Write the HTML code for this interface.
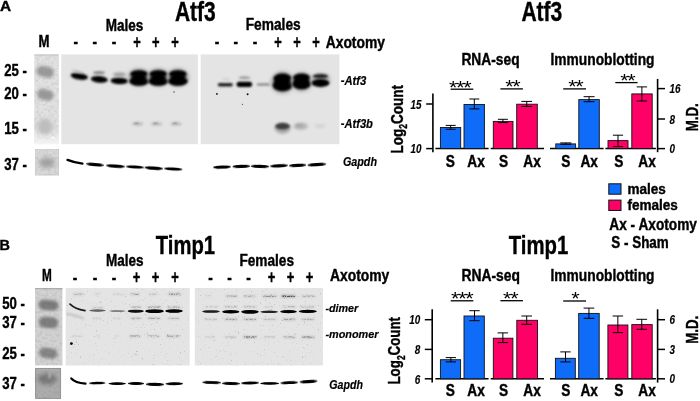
<!DOCTYPE html>
<html><head><meta charset="utf-8"><title>Atf3 Timp1</title>
<style>
html,body{margin:0;padding:0;background:#fff;}
body{width:700px;height:401px;overflow:hidden;}
svg{display:block;}
text{font-family:"Liberation Sans",Arial,sans-serif;stroke:#000;stroke-width:0.4px;}
</style></head><body>
<svg width="700" height="401" viewBox="0 0 700 401">
<defs>
<filter id="b1" x="-30%" y="-100%" width="160%" height="300%"><feGaussianBlur stdDeviation="0.9"/></filter>
<filter id="b2" x="-30%" y="-100%" width="160%" height="300%"><feGaussianBlur stdDeviation="1.4"/></filter>
<filter id="b05" x="-30%" y="-100%" width="160%" height="300%"><feGaussianBlur stdDeviation="0.55"/></filter>
<filter id="b3" x="-50%" y="-100%" width="200%" height="300%"><feGaussianBlur stdDeviation="2.2"/></filter>
<filter id="grain" x="0" y="0" width="100%" height="100%" color-interpolation-filters="sRGB">
<feTurbulence type="fractalNoise" baseFrequency="0.55" numOctaves="2" seed="7" result="n"/>
<feColorMatrix in="n" type="matrix" values="0 0 0 0 0.3  0 0 0 0 0.3  0 0 0 0 0.3  7 0 0 0 -4.75"/>
<feComponentTransfer><feFuncA type="linear" slope="0.22"/></feComponentTransfer>
<feGaussianBlur stdDeviation="0.35"/>
<feComposite in2="SourceGraphic" operator="in"/>
</filter>
<linearGradient id="fadeA" x1="0" y1="0" x2="0" y2="1"><stop offset="0" stop-color="#fff" stop-opacity="0"/><stop offset="1" stop-color="#fff" stop-opacity="0.7"/></linearGradient>
<filter id="mottle" x="0" y="0" width="100%" height="100%" color-interpolation-filters="sRGB">
<feTurbulence type="fractalNoise" baseFrequency="0.35" numOctaves="3" seed="5" result="n"/>
<feColorMatrix in="n" type="matrix" values="0 0 0 0 0.35  0 0 0 0 0.35  0 0 0 0 0.35  2.2 0 0 0 -0.85"/>
<feComponentTransfer><feFuncA type="linear" slope="0.14"/></feComponentTransfer>
<feComposite in2="SourceGraphic" operator="in"/>
</filter>
<filter id="spk" x="-10%" y="-150%" width="120%" height="400%" color-interpolation-filters="sRGB">
<feTurbulence type="fractalNoise" baseFrequency="0.6 0.9" numOctaves="2" seed="11" result="n"/>
<feColorMatrix in="n" type="matrix" values="0 0 0 0 0  0 0 0 0 0  0 0 0 0 0  7 0 0 0 -2.9" result="m"/>
<feGaussianBlur in="SourceGraphic" stdDeviation="0.5" result="g"/>
<feComposite in="g" in2="m" operator="in"/>
</filter>
</defs>
<rect width="700" height="401" fill="#fff"/>

<text x="-0.1" y="10.6" font-size="15.4" font-weight="bold">A</text>
<text x="-0.6" y="250.4" font-size="14.4" font-weight="bold">B</text>
<text x="174.90" y="21.00" font-size="27" font-weight="bold" textLength="40.80" lengthAdjust="spacingAndGlyphs" fill="#000">Atf3</text>
<text x="105.70" y="31.00" font-size="16.3" font-weight="bold" textLength="37.60" lengthAdjust="spacingAndGlyphs" fill="#000">Males</text>
<text x="245.70" y="30.40" font-size="16.3" font-weight="bold" textLength="55.00" lengthAdjust="spacingAndGlyphs" fill="#000">Females</text>
<text x="38.60" y="47.10" font-size="16.3" font-weight="bold" textLength="11.00" lengthAdjust="spacingAndGlyphs" fill="#000">M</text>
<text transform="translate(75.70,47.30) scale(0.85,1)" font-size="16" font-weight="bold" text-anchor="middle">-</text>
<text transform="translate(94.70,47.30) scale(0.85,1)" font-size="16" font-weight="bold" text-anchor="middle">-</text>
<text transform="translate(113.90,47.30) scale(0.85,1)" font-size="16" font-weight="bold" text-anchor="middle">-</text>
<text transform="translate(217.00,47.30) scale(0.85,1)" font-size="16" font-weight="bold" text-anchor="middle">-</text>
<text transform="translate(235.70,47.30) scale(0.85,1)" font-size="16" font-weight="bold" text-anchor="middle">-</text>
<text transform="translate(255.00,47.30) scale(0.85,1)" font-size="16" font-weight="bold" text-anchor="middle">-</text>
<text transform="translate(136.90,47.90) scale(0.74,1)" font-size="17.5" font-weight="bold" text-anchor="middle">+</text>
<text transform="translate(155.70,47.90) scale(0.74,1)" font-size="17.5" font-weight="bold" text-anchor="middle">+</text>
<text transform="translate(175.00,47.90) scale(0.74,1)" font-size="17.5" font-weight="bold" text-anchor="middle">+</text>
<text transform="translate(277.90,47.90) scale(0.74,1)" font-size="17.5" font-weight="bold" text-anchor="middle">+</text>
<text transform="translate(297.00,47.90) scale(0.74,1)" font-size="17.5" font-weight="bold" text-anchor="middle">+</text>
<text transform="translate(316.00,47.90) scale(0.74,1)" font-size="17.5" font-weight="bold" text-anchor="middle">+</text>
<text x="325.70" y="48.10" font-size="16.3" font-weight="bold" textLength="59.30" lengthAdjust="spacingAndGlyphs" fill="#000">Axotomy</text>
<text x="4.30" y="75.70" font-size="16.5" font-weight="bold" textLength="22.70" lengthAdjust="spacingAndGlyphs" fill="#000">25 -</text>
<text x="4.30" y="99.30" font-size="16.5" font-weight="bold" textLength="22.70" lengthAdjust="spacingAndGlyphs" fill="#000">20 -</text>
<text x="4.30" y="133.60" font-size="16.5" font-weight="bold" textLength="22.70" lengthAdjust="spacingAndGlyphs" fill="#000">15 -</text>
<text x="4.30" y="169.70" font-size="16.5" font-weight="bold" textLength="22.70" lengthAdjust="spacingAndGlyphs" fill="#000">37 -</text>
<text x="340.70" y="85.00" font-size="13.3" font-weight="bold" font-style="italic" style="stroke-width:0.2px" textLength="25.70" lengthAdjust="spacingAndGlyphs" fill="#000">-Atf3</text>
<text x="340.70" y="128.40" font-size="13.3" font-weight="bold" font-style="italic" style="stroke-width:0.2px" textLength="32.20" lengthAdjust="spacingAndGlyphs" fill="#000">-Atf3b</text>
<text x="342.90" y="165.70" font-size="13" font-weight="bold" font-style="italic" style="stroke-width:0.2px" textLength="34.10" lengthAdjust="spacingAndGlyphs" fill="#000">Gapdh</text>
<g>
<rect x="34.3" y="54.5" width="24.5" height="89.6" fill="#e2e2e2"/>
<rect x="34.3" y="54.5" width="24.5" height="89.6" fill="#666" filter="url(#mottle)"/>
<rect x="34.3" y="54.5" width="24.5" height="1" fill="#c4c4c4"/>
<rect x="34.3" y="130" width="24.5" height="14.1" fill="url(#fadeA)"/>
<rect x="36.6" y="66.4" width="17.4" height="10.6" rx="5.3" fill="#989898" filter="url(#b2)" transform="rotate(12 45.2 71.7)"/>
<rect x="37" y="89.6" width="16.6" height="10.4" rx="5.2" fill="#989898" filter="url(#b2)" transform="rotate(12 45.2 94.8)"/>
<ellipse cx="45" cy="126.5" rx="7.5" ry="8" fill="#bdbdbd" filter="url(#b3)"/>
<circle cx="52.8" cy="137.6" r="1.1" fill="#fff" filter="url(#b05)"/>
<rect x="35.5" y="149.5" width="23.2" height="25.6" fill="#d9d9d9" stroke="#c2c2c2" stroke-width="0.6"/>
<rect x="35.5" y="149.5" width="23.2" height="25.6" fill="#666" filter="url(#mottle)"/>
<ellipse cx="47" cy="162.6" rx="8" ry="5.2" fill="#a2a2a2" filter="url(#b3)"/>
</g>
<rect x="61.3" y="54.4" width="136.6" height="89.8" fill="#e4e4e4"/>
<rect x="200.7" y="54.4" width="138.7" height="89.8" fill="#e4e4e4"/>
<ellipse cx="79.3" cy="76.3" rx="8.8" ry="3.3" fill="#000" filter="url(#b1)" transform="rotate(9 79.3 76.3)"/>
<ellipse cx="77.5" cy="71.6" rx="6.0" ry="1.2" fill="#b8b8b8" filter="url(#b1)" transform="rotate(14 77.5 71.6)"/>
<ellipse cx="99.3" cy="79.4" rx="8.5" ry="3.4" fill="#000" filter="url(#b1)" transform="rotate(5 99.3 79.4)"/>
<ellipse cx="99.0" cy="72.8" rx="6.0" ry="1.7" fill="#8c8c8c" filter="url(#b1)"/>
<ellipse cx="119.3" cy="80.9" rx="8.8" ry="3.3" fill="#000" filter="url(#b1)" transform="rotate(2 119.3 80.9)"/>
<ellipse cx="119.5" cy="74.6" rx="6.5" ry="2.2" fill="#9a9a9a" filter="url(#b2)"/>
<ellipse cx="139.0" cy="77.5" rx="10.5" ry="8.5" fill="#8a8a8a" filter="url(#b3)"/>
<ellipse cx="139.0" cy="74.0" rx="8.8" ry="3.8" fill="#000" filter="url(#b1)"/>
<ellipse cx="139.0" cy="81.2" rx="9.8" ry="4.6" fill="#000" filter="url(#b1)"/>
<ellipse cx="139.0" cy="77.6" rx="7.5" ry="3.0" fill="#000" filter="url(#b1)"/>
<ellipse cx="158.3" cy="77.5" rx="10.5" ry="8.5" fill="#8a8a8a" filter="url(#b3)"/>
<ellipse cx="158.3" cy="74.0" rx="8.8" ry="3.8" fill="#000" filter="url(#b1)"/>
<ellipse cx="158.3" cy="81.2" rx="9.8" ry="4.6" fill="#000" filter="url(#b1)"/>
<ellipse cx="158.3" cy="77.6" rx="7.5" ry="3.0" fill="#000" filter="url(#b1)"/>
<ellipse cx="177.9" cy="77.5" rx="10.5" ry="8.5" fill="#8a8a8a" filter="url(#b3)"/>
<ellipse cx="177.9" cy="74.0" rx="8.8" ry="3.8" fill="#000" filter="url(#b1)"/>
<ellipse cx="177.9" cy="81.2" rx="9.8" ry="4.6" fill="#000" filter="url(#b1)"/>
<ellipse cx="177.9" cy="77.6" rx="7.5" ry="3.0" fill="#000" filter="url(#b1)"/>
<ellipse cx="137.5" cy="123.8" rx="5.8" ry="2.3" fill="#c2c2c2" filter="url(#b1)"/>
<ellipse cx="136.5" cy="123.4" rx="2.5" ry="1.2" fill="#aaaaaa" filter="url(#b05)"/>
<ellipse cx="156.5" cy="123.8" rx="5.8" ry="2.3" fill="#c2c2c2" filter="url(#b1)"/>
<ellipse cx="155.5" cy="123.4" rx="2.5" ry="1.2" fill="#aaaaaa" filter="url(#b05)"/>
<ellipse cx="176.0" cy="123.8" rx="5.8" ry="2.3" fill="#c2c2c2" filter="url(#b1)"/>
<ellipse cx="175.0" cy="123.4" rx="2.5" ry="1.2" fill="#aaaaaa" filter="url(#b05)"/>
<rect x="217.8" y="82.9" width="15.0" height="3.6" rx="1.8" fill="#222" filter="url(#b1)"/>
<ellipse cx="226.0" cy="79.5" rx="4.0" ry="1.5" fill="#d0d0d0" filter="url(#b2)"/>
<rect x="236.6" y="81.7" width="15.5" height="5.2" rx="2.6" fill="#000" filter="url(#b1)"/>
<ellipse cx="244.5" cy="77.8" rx="6.0" ry="1.5" fill="#9c9c9c" filter="url(#b1)"/>
<rect x="256.8" y="83.4" width="13.0" height="2.2" rx="1.1" fill="#7a7a7a" filter="url(#b1)"/>
<ellipse cx="282.5" cy="82.5" rx="11.0" ry="10.5" fill="#8a8a8a" filter="url(#b3)"/>
<ellipse cx="282.5" cy="78.3" rx="9.0" ry="4.8" fill="#000" filter="url(#b1)"/>
<ellipse cx="282.5" cy="85.2" rx="9.8" ry="6.0" fill="#000" filter="url(#b1)"/>
<ellipse cx="282.5" cy="81.5" rx="8.0" ry="4.0" fill="#000" filter="url(#b1)"/>
<ellipse cx="301.6" cy="81.7" rx="10.2" ry="9.0" fill="#8a8a8a" filter="url(#b3)"/>
<ellipse cx="301.6" cy="77.8" rx="8.5" ry="4.2" fill="#000" filter="url(#b1)"/>
<ellipse cx="301.6" cy="84.0" rx="9.2" ry="5.2" fill="#000" filter="url(#b1)"/>
<ellipse cx="301.6" cy="81.0" rx="7.5" ry="3.5" fill="#000" filter="url(#b1)"/>
<ellipse cx="320.5" cy="80.0" rx="9.5" ry="6.5" fill="#aaa" filter="url(#b3)"/>
<ellipse cx="320.5" cy="83.0" rx="9.0" ry="3.9" fill="#000" filter="url(#b1)"/>
<ellipse cx="320.5" cy="76.2" rx="7.8" ry="2.2" fill="#222" filter="url(#b1)"/>
<ellipse cx="282.6" cy="128.2" rx="8.0" ry="5.5" fill="#a8a8a8" filter="url(#b2)"/>
<ellipse cx="282.6" cy="126.3" rx="7.2" ry="3.2" fill="#3c3c3c" filter="url(#b1)"/>
<ellipse cx="300.7" cy="126.2" rx="7.2" ry="3.5" fill="#b4b4b4" filter="url(#b2)"/>
<ellipse cx="299.5" cy="125.6" rx="3.5" ry="1.5" fill="#a8a8a8" filter="url(#b1)"/>
<ellipse cx="320.0" cy="126.0" rx="5.5" ry="2.0" fill="#d4d4d4" filter="url(#b1)"/>
<circle cx="174" cy="91.9" r="0.6" fill="#111"/>
<circle cx="216.9" cy="93.9" r="0.9" fill="#111"/>
<circle cx="247.6" cy="94.3" r="1.0" fill="#111"/>
<circle cx="242.4" cy="104.3" r="0.5" fill="#111"/>
<path d="M67.5 159.9 Q74 162.6 82.5 163.6" stroke="#000" stroke-width="2.3" fill="none" stroke-linecap="round" filter="url(#b05)"/>
<ellipse cx="95.0" cy="164.60" rx="9.2" ry="1.56" fill="#000" filter="url(#b05)" transform="rotate(4.90 95.0 164.6)"/>
<rect x="89.0" y="163.52" width="12.1" height="2.16" rx="1.08" fill="#000" filter="url(#b05)" transform="rotate(4.90 95.0 164.6)"/>
<ellipse cx="115.5" cy="166.10" rx="9.7" ry="1.56" fill="#000" filter="url(#b05)" transform="rotate(3.81 115.5 166.1)"/>
<rect x="109.0" y="165.02" width="13.0" height="2.16" rx="1.08" fill="#000" filter="url(#b05)" transform="rotate(3.81 115.5 166.1)"/>
<ellipse cx="135.0" cy="167.00" rx="9.2" ry="1.56" fill="#000" filter="url(#b05)" transform="rotate(3.27 135.0 167.0)"/>
<rect x="129.0" y="165.92" width="12.0" height="2.16" rx="1.08" fill="#000" filter="url(#b05)" transform="rotate(3.27 135.0 167.0)"/>
<ellipse cx="153.8" cy="168.10" rx="9.4" ry="1.72" fill="#000" filter="url(#b05)" transform="rotate(3.97 153.8 168.1)"/>
<rect x="147.6" y="166.91" width="12.4" height="2.38" rx="1.19" fill="#000" filter="url(#b05)" transform="rotate(3.97 153.8 168.1)"/>
<ellipse cx="173.2" cy="169.00" rx="9.4" ry="1.56" fill="#000" filter="url(#b05)" transform="rotate(3.18 173.2 169.0)"/>
<rect x="167.0" y="167.92" width="12.4" height="2.16" rx="1.08" fill="#000" filter="url(#b05)" transform="rotate(3.18 173.2 169.0)"/>
<ellipse cx="222.0" cy="167.05" rx="9.2" ry="1.56" fill="#000" filter="url(#b05)" transform="rotate(-2.05 222.0 167.1)"/>
<rect x="216.0" y="165.97" width="12.0" height="2.16" rx="1.08" fill="#000" filter="url(#b05)" transform="rotate(-2.05 222.0 167.1)"/>
<ellipse cx="241.3" cy="166.40" rx="8.9" ry="1.56" fill="#000" filter="url(#b05)" transform="rotate(-1.71 241.3 166.4)"/>
<rect x="235.6" y="165.32" width="11.4" height="2.16" rx="1.08" fill="#000" filter="url(#b05)" transform="rotate(-1.71 241.3 166.4)"/>
<ellipse cx="260.0" cy="166.40" rx="9.2" ry="1.56" fill="#000" filter="url(#b05)" transform="rotate(1.64 260.0 166.4)"/>
<rect x="254.0" y="165.32" width="12.0" height="2.16" rx="1.08" fill="#000" filter="url(#b05)" transform="rotate(1.64 260.0 166.4)"/>
<ellipse cx="279.0" cy="165.85" rx="9.2" ry="1.56" fill="#000" filter="url(#b05)" transform="rotate(-2.86 279.0 165.8)"/>
<rect x="273.0" y="164.77" width="12.0" height="2.16" rx="1.08" fill="#000" filter="url(#b05)" transform="rotate(-2.86 279.0 165.8)"/>
<ellipse cx="297.5" cy="165.40" rx="8.7" ry="1.56" fill="#000" filter="url(#b05)" transform="rotate(-2.64 297.5 165.4)"/>
<rect x="292.0" y="164.32" width="11.0" height="2.16" rx="1.08" fill="#000" filter="url(#b05)" transform="rotate(-2.64 297.5 165.4)"/>
<ellipse cx="316.8" cy="164.65" rx="9.4" ry="1.56" fill="#000" filter="url(#b05)" transform="rotate(-3.58 316.8 164.6)"/>
<rect x="310.6" y="163.57" width="12.4" height="2.16" rx="1.08" fill="#000" filter="url(#b05)" transform="rotate(-3.58 316.8 164.6)"/>
<text x="521.40" y="21.10" font-size="27" font-weight="bold" textLength="40.90" lengthAdjust="spacingAndGlyphs" fill="#000">Atf3</text>
<text x="461.40" y="64.80" font-size="16.5" font-weight="bold" textLength="58.20" lengthAdjust="spacingAndGlyphs" fill="#000">RNA-seq</text>
<text x="550.50" y="64.70" font-size="16.5" font-weight="bold" textLength="104.00" lengthAdjust="spacingAndGlyphs" fill="#000">Immunoblotting</text>
<text transform="translate(402.6,153.6) rotate(-90)" font-size="16.5" font-weight="bold" textLength="68.5" lengthAdjust="spacingAndGlyphs">Log<tspan font-size="10.5" dy="4.5">2</tspan><tspan dy="-4.5">Count</tspan></text>
<text transform="translate(697.6,131.2) rotate(-90)" font-size="16.5" font-weight="bold" textLength="28" lengthAdjust="spacingAndGlyphs">M.D.</text>
<line x1="432.90" y1="93.60" x2="432.90" y2="152.20" stroke="#000" stroke-width="1.6"/>
<line x1="426.20" y1="104.00" x2="432.90" y2="104.00" stroke="#000" stroke-width="1.5"/>
<text transform="translate(421.60,108.70) scale(0.76,1)" font-size="13" font-weight="bold" font-style="italic" style="stroke-width:0.15px" text-anchor="end">15</text>
<line x1="426.20" y1="148.60" x2="432.90" y2="148.60" stroke="#000" stroke-width="1.5"/>
<text transform="translate(421.60,153.30) scale(0.76,1)" font-size="13" font-weight="bold" font-style="italic" style="stroke-width:0.15px" text-anchor="end">10</text>
<line x1="657.60" y1="78.90" x2="657.60" y2="152.20" stroke="#000" stroke-width="1.6"/>
<line x1="657.60" y1="88.60" x2="665.00" y2="88.60" stroke="#000" stroke-width="1.5"/>
<text transform="translate(669.60,93.10) scale(0.76,1)" font-size="13" font-weight="bold" font-style="italic" style="stroke-width:0.15px" text-anchor="start">16</text>
<line x1="657.60" y1="119.00" x2="665.00" y2="119.00" stroke="#000" stroke-width="1.5"/>
<text transform="translate(669.60,123.50) scale(0.76,1)" font-size="13" font-weight="bold" font-style="italic" style="stroke-width:0.15px" text-anchor="start">8</text>
<line x1="657.60" y1="148.60" x2="665.00" y2="148.60" stroke="#000" stroke-width="1.5"/>
<text transform="translate(669.60,153.10) scale(0.76,1)" font-size="13" font-weight="bold" font-style="italic" style="stroke-width:0.15px" text-anchor="start">0</text>
<line x1="435.40" y1="148.60" x2="488.60" y2="148.60" stroke="#000" stroke-width="1.5"/>
<line x1="490.70" y1="148.60" x2="544.00" y2="148.60" stroke="#000" stroke-width="1.5"/>
<line x1="550.00" y1="148.60" x2="603.60" y2="148.60" stroke="#000" stroke-width="1.5"/>
<line x1="605.40" y1="148.60" x2="655.90" y2="148.60" stroke="#000" stroke-width="1.5"/>
<rect x="440.40" y="127.50" width="20.30" height="21.10" fill="#0f6cf8" stroke="#111" stroke-width="0.9"/>
<line x1="450.70" y1="125.40" x2="450.70" y2="129.30" stroke="#000" stroke-width="1.0"/>
<line x1="445.70" y1="125.40" x2="455.70" y2="125.40" stroke="#000" stroke-width="1.0"/>
<line x1="445.70" y1="129.30" x2="455.70" y2="129.30" stroke="#000" stroke-width="1.0"/>
<rect x="464.00" y="104.50" width="20.40" height="44.10" fill="#0f6cf8" stroke="#111" stroke-width="0.9"/>
<line x1="474.30" y1="99.00" x2="474.30" y2="108.90" stroke="#000" stroke-width="1.0"/>
<line x1="469.30" y1="99.00" x2="479.30" y2="99.00" stroke="#000" stroke-width="1.0"/>
<line x1="469.30" y1="108.90" x2="479.30" y2="108.90" stroke="#000" stroke-width="1.0"/>
<rect x="493.30" y="121.40" width="19.70" height="27.20" fill="#ff0066" stroke="#111" stroke-width="0.9"/>
<line x1="502.90" y1="119.30" x2="502.90" y2="122.60" stroke="#000" stroke-width="1.0"/>
<line x1="497.90" y1="119.30" x2="507.90" y2="119.30" stroke="#000" stroke-width="1.0"/>
<line x1="497.90" y1="122.60" x2="507.90" y2="122.60" stroke="#000" stroke-width="1.0"/>
<rect x="516.70" y="104.20" width="20.60" height="44.40" fill="#ff0066" stroke="#111" stroke-width="0.9"/>
<line x1="526.75" y1="101.40" x2="526.75" y2="106.40" stroke="#000" stroke-width="1.0"/>
<line x1="521.40" y1="101.40" x2="532.10" y2="101.40" stroke="#000" stroke-width="1.0"/>
<line x1="521.40" y1="106.40" x2="532.10" y2="106.40" stroke="#000" stroke-width="1.0"/>
<rect x="555.80" y="143.90" width="19.80" height="4.70" fill="#0f6cf8" stroke="#111" stroke-width="0.9"/>
<line x1="565.85" y1="142.90" x2="565.85" y2="144.30" stroke="#000" stroke-width="1.0"/>
<line x1="560.30" y1="142.90" x2="571.40" y2="142.90" stroke="#000" stroke-width="1.0"/>
<line x1="560.30" y1="144.30" x2="571.40" y2="144.30" stroke="#000" stroke-width="1.0"/>
<rect x="578.80" y="99.60" width="20.50" height="49.00" fill="#0f6cf8" stroke="#111" stroke-width="0.9"/>
<line x1="589.10" y1="96.70" x2="589.10" y2="101.70" stroke="#000" stroke-width="1.0"/>
<line x1="583.60" y1="96.70" x2="594.60" y2="96.70" stroke="#000" stroke-width="1.0"/>
<line x1="583.60" y1="101.70" x2="594.60" y2="101.70" stroke="#000" stroke-width="1.0"/>
<rect x="608.00" y="140.60" width="20.00" height="8.00" fill="#ff0066" stroke="#111" stroke-width="0.9"/>
<line x1="618.00" y1="135.20" x2="618.00" y2="146.60" stroke="#000" stroke-width="1.0"/>
<line x1="612.90" y1="135.20" x2="623.10" y2="135.20" stroke="#000" stroke-width="1.0"/>
<line x1="612.90" y1="146.60" x2="623.10" y2="146.60" stroke="#000" stroke-width="1.0"/>
<rect x="631.80" y="93.90" width="20.40" height="54.70" fill="#ff0066" stroke="#111" stroke-width="0.9"/>
<line x1="641.90" y1="86.90" x2="641.90" y2="101.00" stroke="#000" stroke-width="1.0"/>
<line x1="636.70" y1="86.90" x2="647.10" y2="86.90" stroke="#000" stroke-width="1.0"/>
<line x1="636.70" y1="101.00" x2="647.10" y2="101.00" stroke="#000" stroke-width="1.0"/>
<line x1="450.70" y1="89.20" x2="473.30" y2="89.20" stroke="#000" stroke-width="1.3"/>
<text transform="translate(459.80,93.60) scale(1.2,1)" font-size="18" letter-spacing="-1.05" text-anchor="middle" style="stroke:none">***</text>
<line x1="500.40" y1="88.90" x2="522.90" y2="88.90" stroke="#000" stroke-width="1.3"/>
<text transform="translate(512.30,93.30) scale(1.2,1)" font-size="18" letter-spacing="-1.05" text-anchor="middle" style="stroke:none">**</text>
<line x1="563.20" y1="88.90" x2="586.00" y2="88.90" stroke="#000" stroke-width="1.3"/>
<text transform="translate(575.30,93.30) scale(1.2,1)" font-size="18" letter-spacing="-1.05" text-anchor="middle" style="stroke:none">**</text>
<line x1="615.30" y1="82.60" x2="637.60" y2="82.60" stroke="#000" stroke-width="1.3"/>
<text transform="translate(627.30,87.00) scale(1.2,1)" font-size="18" letter-spacing="-1.05" text-anchor="middle" style="stroke:none">**</text>
<text transform="translate(450.30,166.50) scale(0.83,1)" font-size="16.5" font-weight="bold" text-anchor="middle">S</text>
<text transform="translate(476.00,166.50) scale(0.83,1)" font-size="16.5" font-weight="bold" text-anchor="middle">Ax</text>
<text transform="translate(503.60,166.50) scale(0.83,1)" font-size="16.5" font-weight="bold" text-anchor="middle">S</text>
<text transform="translate(532.00,166.50) scale(0.83,1)" font-size="16.5" font-weight="bold" text-anchor="middle">Ax</text>
<text transform="translate(565.80,166.50) scale(0.83,1)" font-size="16.5" font-weight="bold" text-anchor="middle">S</text>
<text transform="translate(589.20,166.50) scale(0.83,1)" font-size="16.5" font-weight="bold" text-anchor="middle">Ax</text>
<text transform="translate(618.80,166.50) scale(0.83,1)" font-size="16.5" font-weight="bold" text-anchor="middle">S</text>
<text transform="translate(647.00,166.50) scale(0.83,1)" font-size="16.5" font-weight="bold" text-anchor="middle">Ax</text>
<rect x="608.8" y="183.8" width="12.2" height="10.4" fill="#0f6cf8" stroke="#111" stroke-width="1"/>
<rect x="608.8" y="200.1" width="12.2" height="10.4" fill="#ff0066" stroke="#111" stroke-width="1"/>
<text x="627.40" y="193.60" font-size="15" font-weight="bold" textLength="38.30" lengthAdjust="spacingAndGlyphs" fill="#000">males</text>
<text x="627.40" y="210.00" font-size="15" font-weight="bold" textLength="50.50" lengthAdjust="spacingAndGlyphs" fill="#000">females</text>
<text x="609.30" y="229.60" font-size="16.3" font-weight="bold" textLength="87.60" lengthAdjust="spacingAndGlyphs" fill="#000">Ax - Axotomy</text>
<text x="611.30" y="247.90" font-size="16.3" font-weight="bold" textLength="57.50" lengthAdjust="spacingAndGlyphs" fill="#000">S - Sham</text>
<text x="155.80" y="254.00" font-size="26.5" font-weight="bold" textLength="59.20" lengthAdjust="spacingAndGlyphs" fill="#000">Timp1</text>
<text x="106.00" y="266.00" font-size="16.3" font-weight="bold" textLength="37.60" lengthAdjust="spacingAndGlyphs" fill="#000">Males</text>
<text x="239.40" y="265.60" font-size="16.3" font-weight="bold" textLength="54.60" lengthAdjust="spacingAndGlyphs" fill="#000">Females</text>
<text x="41.90" y="281.00" font-size="16.3" font-weight="bold" textLength="9.80" lengthAdjust="spacingAndGlyphs" fill="#000">M</text>
<text transform="translate(75.00,282.80) scale(0.85,1)" font-size="16" font-weight="bold" text-anchor="middle">-</text>
<text transform="translate(95.00,282.80) scale(0.85,1)" font-size="16" font-weight="bold" text-anchor="middle">-</text>
<text transform="translate(114.00,282.80) scale(0.85,1)" font-size="16" font-weight="bold" text-anchor="middle">-</text>
<text transform="translate(210.40,282.80) scale(0.85,1)" font-size="16" font-weight="bold" text-anchor="middle">-</text>
<text transform="translate(229.40,282.80) scale(0.85,1)" font-size="16" font-weight="bold" text-anchor="middle">-</text>
<text transform="translate(248.40,282.80) scale(0.85,1)" font-size="16" font-weight="bold" text-anchor="middle">-</text>
<text transform="translate(136.60,283.20) scale(0.74,1)" font-size="17.5" font-weight="bold" text-anchor="middle">+</text>
<text transform="translate(155.60,283.20) scale(0.74,1)" font-size="17.5" font-weight="bold" text-anchor="middle">+</text>
<text transform="translate(175.00,283.20) scale(0.74,1)" font-size="17.5" font-weight="bold" text-anchor="middle">+</text>
<text transform="translate(271.40,283.20) scale(0.74,1)" font-size="17.5" font-weight="bold" text-anchor="middle">+</text>
<text transform="translate(290.40,283.20) scale(0.74,1)" font-size="17.5" font-weight="bold" text-anchor="middle">+</text>
<text transform="translate(309.40,283.20) scale(0.74,1)" font-size="17.5" font-weight="bold" text-anchor="middle">+</text>
<text x="330.00" y="281.40" font-size="16.3" font-weight="bold" textLength="59.30" lengthAdjust="spacingAndGlyphs" fill="#000">Axotomy</text>
<text x="2.30" y="309.30" font-size="16.5" font-weight="bold" textLength="22.70" lengthAdjust="spacingAndGlyphs" fill="#000">50 -</text>
<text x="2.30" y="327.90" font-size="16.5" font-weight="bold" textLength="22.70" lengthAdjust="spacingAndGlyphs" fill="#000">37 -</text>
<text x="2.30" y="358.70" font-size="16.5" font-weight="bold" textLength="22.70" lengthAdjust="spacingAndGlyphs" fill="#000">25 -</text>
<text x="2.30" y="388.90" font-size="16.5" font-weight="bold" textLength="22.70" lengthAdjust="spacingAndGlyphs" fill="#000">37 -</text>
<text x="325.40" y="312.40" font-size="11.8" font-weight="bold" font-style="italic" style="stroke-width:0.2px" textLength="32.90" lengthAdjust="spacingAndGlyphs" fill="#000">-dimer</text>
<text x="325.40" y="337.90" font-size="11.8" font-weight="bold" font-style="italic" style="stroke-width:0.2px" textLength="53.20" lengthAdjust="spacingAndGlyphs" fill="#000">-monomer</text>
<text x="329.30" y="388.60" font-size="12.2" font-weight="bold" font-style="italic" style="stroke-width:0.2px" textLength="33.60" lengthAdjust="spacingAndGlyphs" fill="#000">Gapdh</text>
<rect x="35" y="288" width="27.4" height="77.4" fill="#d3d3d3"/>
<rect x="35" y="288" width="27.4" height="1.2" fill="#b0b0b0"/>
<rect x="38.4" y="299.9" width="20.2" height="10.4" rx="5.2" fill="#7c7c7c" filter="url(#b2)" transform="rotate(5 48.4 305.1)"/>
<rect x="38.8" y="316.9" width="19.4" height="11.2" rx="5.6" fill="#7e7e7e" filter="url(#b2)" transform="rotate(4 48.4 322.5)"/>
<rect x="39" y="347.9" width="18.6" height="10.4" rx="5.2" fill="#858585" filter="url(#b2)" transform="rotate(9 48.2 353.2)"/>
<rect x="35" y="288" width="27.4" height="77.4" fill="#555" filter="url(#mottle)"/>
<rect x="35.6" y="368.4" width="25" height="30" fill="#adadad" stroke="#8e8e8e" stroke-width="0.9"/>
<ellipse cx="47.2" cy="379" rx="9.5" ry="5.6" fill="#787878" filter="url(#b3)"/>
<ellipse cx="50" cy="374.5" rx="1.3" ry="4.5" fill="#b4b4b4" filter="url(#b1)" transform="rotate(12 50 374.5)"/>
<rect x="35" y="368" width="26" height="30.6" fill="#444" filter="url(#mottle)"/>
<rect x="65.7" y="288" width="124" height="77.5" fill="#e4e4e4"/>
<rect x="194.8" y="288" width="128.1" height="77.5" fill="#e4e4e4"/>
<path d="M70 304.2 Q75 309 85 310.7" stroke="#1c1c1c" stroke-width="1.7" fill="none" stroke-linecap="round" filter="url(#b05)"/>
<path d="M66.5 313.6 Q75 315 84 318.6" stroke="#b4b4b4" stroke-width="1.5" fill="none" filter="url(#b1)"/>
<ellipse cx="97.5" cy="310.5" rx="8.3" ry="1.23" fill="#5c5c5c" filter="url(#b05)"/>
<rect x="92.0" y="309.71" width="11.0" height="1.58" rx="0.79" fill="#5c5c5c" filter="url(#b05)"/>
<rect x="91.0" y="307.0" width="13.0" height="1.6" rx="0.8" fill="#d0d0d0" filter="url(#b1)"/>
<rect x="92.0" y="307.2" width="11.0" height="1.1" rx="0.6" fill="#bdbdbd" filter="url(#spk)"/>
<ellipse cx="117.5" cy="311.1" rx="8.3" ry="0.95" fill="#808080" filter="url(#b05)"/>
<rect x="112.0" y="310.49" width="11.0" height="1.22" rx="0.61" fill="#808080" filter="url(#b05)"/>
<ellipse cx="135.7" cy="311.2" rx="8.1" ry="1.57" fill="#111" filter="url(#b05)"/>
<rect x="130.4" y="310.19" width="10.6" height="2.02" rx="1.01" fill="#111" filter="url(#b05)"/>
<ellipse cx="154.5" cy="311.2" rx="9.3" ry="1.90" fill="#000" filter="url(#b05)"/>
<rect x="148.0" y="309.98" width="13.0" height="2.45" rx="1.22" fill="#000" filter="url(#b05)"/>
<ellipse cx="174.0" cy="311.0" rx="8.8" ry="1.79" fill="#000" filter="url(#b05)"/>
<rect x="168.0" y="309.85" width="12.0" height="2.30" rx="1.15" fill="#000" filter="url(#b05)"/>
<rect x="130.0" y="306.4" width="12.0" height="1.6" rx="0.8" fill="#c9c9c9" filter="url(#b1)"/>
<rect x="131.0" y="306.6" width="10.0" height="1.1" rx="0.6" fill="#afafaf" filter="url(#spk)"/>
<rect x="147.0" y="306.4" width="15.0" height="1.6" rx="0.8" fill="#c0c0c0" filter="url(#b1)"/>
<rect x="148.0" y="306.6" width="13.0" height="1.1" rx="0.6" fill="#9c9c9c" filter="url(#spk)"/>
<rect x="167.0" y="306.4" width="14.0" height="1.6" rx="0.8" fill="#c4c4c4" filter="url(#b1)"/>
<rect x="168.0" y="306.6" width="12.0" height="1.1" rx="0.6" fill="#a5a5a5" filter="url(#spk)"/>
<rect x="73.0" y="293.1" width="11.0" height="2.2" rx="1.1" fill="#cecece" filter="url(#b1)"/>
<rect x="74.0" y="293.4" width="9.0" height="1.5" rx="0.8" fill="#b8b8b8" filter="url(#spk)"/>
<rect x="94.0" y="293.1" width="6.0" height="2.2" rx="1.1" fill="#d8d8d8" filter="url(#b1)"/>
<rect x="95.0" y="293.4" width="4.0" height="1.5" rx="0.8" fill="#cccccc" filter="url(#spk)"/>
<rect x="112.0" y="293.1" width="12.0" height="2.2" rx="1.1" fill="#dadada" filter="url(#b1)"/>
<rect x="113.0" y="293.4" width="10.0" height="1.5" rx="0.8" fill="#d0d0d0" filter="url(#spk)"/>
<rect x="130.0" y="293.1" width="10.0" height="2.2" rx="1.1" fill="#c7c7c7" filter="url(#b1)"/>
<rect x="131.0" y="293.4" width="8.0" height="1.5" rx="0.8" fill="#aaaaaa" filter="url(#spk)"/>
<rect x="148.0" y="293.1" width="10.0" height="2.2" rx="1.1" fill="#d4d4d4" filter="url(#b1)"/>
<rect x="149.0" y="293.4" width="8.0" height="1.5" rx="0.8" fill="#c4c4c4" filter="url(#spk)"/>
<rect x="168.0" y="293.1" width="13.0" height="2.2" rx="1.1" fill="#bbbbbb" filter="url(#b1)"/>
<rect x="169.0" y="293.4" width="11.0" height="1.5" rx="0.8" fill="#929292" filter="url(#spk)"/>
<rect x="130.0" y="317.4" width="12.0" height="1.8" rx="0.9" fill="#c7c7c7" filter="url(#b1)"/>
<rect x="131.0" y="317.7" width="10.0" height="1.3" rx="0.6" fill="#ababab" filter="url(#spk)"/>
<rect x="147.0" y="317.4" width="14.0" height="1.8" rx="0.9" fill="#c4c4c4" filter="url(#b1)"/>
<rect x="148.0" y="317.7" width="12.0" height="1.3" rx="0.6" fill="#a5a5a5" filter="url(#spk)"/>
<rect x="167.0" y="317.4" width="13.0" height="1.8" rx="0.9" fill="#c9c9c9" filter="url(#b1)"/>
<rect x="168.0" y="317.7" width="11.0" height="1.3" rx="0.6" fill="#afafaf" filter="url(#spk)"/>
<rect x="92.0" y="317.4" width="10.0" height="1.8" rx="0.9" fill="#d7d7d7" filter="url(#b1)"/>
<rect x="93.0" y="317.7" width="8.0" height="1.3" rx="0.6" fill="#cacaca" filter="url(#spk)"/>
<rect x="112.0" y="317.4" width="10.0" height="1.8" rx="0.9" fill="#dadada" filter="url(#b1)"/>
<rect x="113.0" y="317.7" width="8.0" height="1.3" rx="0.6" fill="#d0d0d0" filter="url(#spk)"/>
<rect x="71.0" y="335.4" width="13.0" height="1.6" rx="0.8" fill="#d5d5d5" filter="url(#b1)"/>
<rect x="72.0" y="335.6" width="11.0" height="1.1" rx="0.6" fill="#c7c7c7" filter="url(#spk)"/>
<rect x="96.0" y="335.4" width="5.0" height="1.6" rx="0.8" fill="#dadada" filter="url(#b1)"/>
<rect x="97.0" y="335.6" width="3.0" height="1.1" rx="0.6" fill="#d0d0d0" filter="url(#spk)"/>
<rect x="114.0" y="335.4" width="6.0" height="1.6" rx="0.8" fill="#dadada" filter="url(#b1)"/>
<rect x="115.0" y="335.6" width="4.0" height="1.1" rx="0.6" fill="#d0d0d0" filter="url(#spk)"/>
<rect x="129.0" y="335.4" width="12.0" height="1.6" rx="0.8" fill="#bebebe" filter="url(#b1)"/>
<rect x="130.0" y="335.6" width="10.0" height="1.1" rx="0.6" fill="#999999" filter="url(#spk)"/>
<rect x="147.0" y="335.4" width="13.0" height="1.6" rx="0.8" fill="#c4c4c4" filter="url(#b1)"/>
<rect x="148.0" y="335.6" width="11.0" height="1.1" rx="0.6" fill="#a5a5a5" filter="url(#spk)"/>
<rect x="166.0" y="335.4" width="14.0" height="1.6" rx="0.8" fill="#bebebe" filter="url(#b1)"/>
<rect x="167.0" y="335.6" width="12.0" height="1.1" rx="0.6" fill="#999999" filter="url(#spk)"/>
<rect x="133.0" y="353.8" width="6.0" height="1.4" rx="0.7" fill="#d8d8d8" filter="url(#b1)"/>
<rect x="134.0" y="354.0" width="4.0" height="1.0" rx="0.5" fill="#cccccc" filter="url(#spk)"/>
<circle cx="71.4" cy="343.6" r="1.4" fill="#000"/>
<ellipse cx="211.0" cy="311.5" rx="8.8" ry="1.34" fill="#1a1a1a" filter="url(#b05)"/>
<rect x="205.0" y="310.64" width="12.0" height="1.73" rx="0.86" fill="#1a1a1a" filter="url(#b05)"/>
<ellipse cx="230.8" cy="311.8" rx="8.6" ry="1.68" fill="#000" filter="url(#b05)"/>
<rect x="225.0" y="310.72" width="11.6" height="2.16" rx="1.08" fill="#000" filter="url(#b05)"/>
<ellipse cx="250.0" cy="311.8" rx="8.8" ry="1.90" fill="#000" filter="url(#b05)"/>
<rect x="244.0" y="310.58" width="12.0" height="2.45" rx="1.22" fill="#000" filter="url(#b05)"/>
<ellipse cx="269.2" cy="311.8" rx="9.0" ry="1.23" fill="#222" filter="url(#b05)"/>
<rect x="263.0" y="311.01" width="12.4" height="1.58" rx="0.79" fill="#222" filter="url(#b05)"/>
<ellipse cx="288.5" cy="311.6" rx="8.3" ry="1.68" fill="#000" filter="url(#b05)"/>
<rect x="283.0" y="310.52" width="11.0" height="2.16" rx="1.08" fill="#000" filter="url(#b05)"/>
<ellipse cx="307.8" cy="311.4" rx="9.0" ry="1.57" fill="#000" filter="url(#b05)"/>
<rect x="301.6" y="310.39" width="12.4" height="2.02" rx="1.01" fill="#000" filter="url(#b05)"/>
<rect x="205.0" y="295.2" width="7.0" height="2.0" rx="1.0" fill="#d9d9d9" filter="url(#b1)"/>
<rect x="206.0" y="295.5" width="5.0" height="1.4" rx="0.7" fill="#cecece" filter="url(#spk)"/>
<rect x="225.0" y="295.2" width="13.0" height="2.0" rx="1.0" fill="#c9c9c9" filter="url(#b1)"/>
<rect x="226.0" y="295.5" width="11.0" height="1.4" rx="0.7" fill="#afafaf" filter="url(#spk)"/>
<rect x="243.0" y="295.2" width="13.0" height="2.0" rx="1.0" fill="#c9c9c9" filter="url(#b1)"/>
<rect x="244.0" y="295.5" width="11.0" height="1.4" rx="0.7" fill="#afafaf" filter="url(#spk)"/>
<rect x="262.0" y="295.2" width="15.0" height="2.0" rx="1.0" fill="#c0c0c0" filter="url(#b1)"/>
<rect x="263.0" y="295.5" width="13.0" height="1.4" rx="0.7" fill="#9c9c9c" filter="url(#spk)"/>
<rect x="281.0" y="295.2" width="15.0" height="2.0" rx="1.0" fill="#9d9d9d" filter="url(#b1)"/>
<rect x="282.0" y="295.5" width="13.0" height="1.4" rx="0.7" fill="#565656" filter="url(#spk)"/>
<rect x="301.0" y="295.2" width="14.0" height="2.0" rx="1.0" fill="#c9c9c9" filter="url(#b1)"/>
<rect x="302.0" y="295.5" width="12.0" height="1.4" rx="0.7" fill="#afafaf" filter="url(#spk)"/>
<rect x="204.0" y="318.4" width="14.0" height="1.8" rx="0.9" fill="#d0d0d0" filter="url(#b1)"/>
<rect x="205.0" y="318.7" width="12.0" height="1.3" rx="0.6" fill="#bdbdbd" filter="url(#spk)"/>
<rect x="224.0" y="318.4" width="14.0" height="1.8" rx="0.9" fill="#c1c1c1" filter="url(#b1)"/>
<rect x="225.0" y="318.7" width="12.0" height="1.3" rx="0.6" fill="#9e9e9e" filter="url(#spk)"/>
<rect x="243.0" y="318.4" width="14.0" height="1.8" rx="0.9" fill="#c1c1c1" filter="url(#b1)"/>
<rect x="244.0" y="318.7" width="12.0" height="1.3" rx="0.6" fill="#9e9e9e" filter="url(#spk)"/>
<rect x="263.0" y="318.4" width="14.0" height="1.8" rx="0.9" fill="#cecece" filter="url(#b1)"/>
<rect x="264.0" y="318.7" width="12.0" height="1.3" rx="0.6" fill="#b8b8b8" filter="url(#spk)"/>
<rect x="282.0" y="318.4" width="14.0" height="1.8" rx="0.9" fill="#bdbdbd" filter="url(#b1)"/>
<rect x="283.0" y="318.7" width="12.0" height="1.3" rx="0.6" fill="#979797" filter="url(#spk)"/>
<rect x="301.0" y="318.4" width="14.0" height="1.8" rx="0.9" fill="#c7c7c7" filter="url(#b1)"/>
<rect x="302.0" y="318.7" width="12.0" height="1.3" rx="0.6" fill="#aaaaaa" filter="url(#spk)"/>
<rect x="204.0" y="336.4" width="12.0" height="1.5" rx="0.8" fill="#d8d8d8" filter="url(#b1)"/>
<rect x="205.0" y="336.6" width="10.0" height="1.0" rx="0.5" fill="#cccccc" filter="url(#spk)"/>
<rect x="224.0" y="336.4" width="13.0" height="1.5" rx="0.8" fill="#cccccc" filter="url(#b1)"/>
<rect x="225.0" y="336.6" width="11.0" height="1.0" rx="0.5" fill="#b5b5b5" filter="url(#spk)"/>
<rect x="243.0" y="336.4" width="14.0" height="1.5" rx="0.8" fill="#a2a2a2" filter="url(#b1)"/>
<rect x="244.0" y="336.6" width="12.0" height="1.0" rx="0.5" fill="#616161" filter="url(#spk)"/>
<rect x="263.0" y="336.4" width="13.0" height="1.5" rx="0.8" fill="#d0d0d0" filter="url(#b1)"/>
<rect x="264.0" y="336.6" width="11.0" height="1.0" rx="0.5" fill="#bdbdbd" filter="url(#spk)"/>
<rect x="283.0" y="336.4" width="13.0" height="1.5" rx="0.8" fill="#bbbbbb" filter="url(#b1)"/>
<rect x="284.0" y="336.6" width="11.0" height="1.0" rx="0.5" fill="#929292" filter="url(#spk)"/>
<rect x="301.0" y="336.4" width="14.0" height="1.5" rx="0.8" fill="#acacac" filter="url(#b1)"/>
<rect x="302.0" y="336.6" width="12.0" height="1.0" rx="0.5" fill="#757575" filter="url(#spk)"/>
<rect x="204.0" y="306.0" width="15.0" height="1.6" rx="0.8" fill="#d3d3d3" filter="url(#b1)"/>
<rect x="205.0" y="306.2" width="13.0" height="1.1" rx="0.6" fill="#c2c2c2" filter="url(#spk)"/>
<rect x="224.0" y="306.0" width="14.0" height="1.6" rx="0.8" fill="#c7c7c7" filter="url(#b1)"/>
<rect x="225.0" y="306.2" width="12.0" height="1.1" rx="0.6" fill="#aaaaaa" filter="url(#spk)"/>
<rect x="243.0" y="306.0" width="14.0" height="1.6" rx="0.8" fill="#c7c7c7" filter="url(#b1)"/>
<rect x="244.0" y="306.2" width="12.0" height="1.1" rx="0.6" fill="#aaaaaa" filter="url(#spk)"/>
<rect x="264.0" y="306.0" width="10.0" height="1.6" rx="0.8" fill="#d4d4d4" filter="url(#b1)"/>
<rect x="265.0" y="306.2" width="8.0" height="1.1" rx="0.6" fill="#c4c4c4" filter="url(#spk)"/>
<rect x="282.0" y="306.0" width="14.0" height="1.6" rx="0.8" fill="#c7c7c7" filter="url(#b1)"/>
<rect x="283.0" y="306.2" width="12.0" height="1.1" rx="0.6" fill="#aaaaaa" filter="url(#spk)"/>
<rect x="300.0" y="306.0" width="15.0" height="1.6" rx="0.8" fill="#c9c9c9" filter="url(#b1)"/>
<rect x="301.0" y="306.2" width="13.0" height="1.1" rx="0.6" fill="#afafaf" filter="url(#spk)"/>
<rect x="65.7" y="288" width="124" height="77.5" fill="#777" filter="url(#grain)"/>
<rect x="194.8" y="288" width="128.1" height="77.5" fill="#777" filter="url(#grain)"/>
<path d="M71.3 378.4 Q75 382.6 85.5 383.6" stroke="#000" stroke-width="2.2" fill="none" stroke-linecap="round" filter="url(#b05)"/>
<ellipse cx="97.2" cy="383.05" rx="8.5" ry="1.25" fill="#000" filter="url(#b05)" transform="rotate(-1.37 97.2 383.0)"/>
<rect x="92.0" y="382.19" width="10.5" height="1.73" rx="0.86" fill="#000" filter="url(#b05)" transform="rotate(-1.37 97.2 383.0)"/>
<ellipse cx="117.2" cy="383.60" rx="8.9" ry="1.35" fill="#000" filter="url(#b05)" transform="rotate(0.00 117.2 383.6)"/>
<rect x="111.5" y="382.66" width="11.5" height="1.87" rx="0.94" fill="#000" filter="url(#b05)" transform="rotate(0.00 117.2 383.6)"/>
<ellipse cx="136.0" cy="383.55" rx="8.2" ry="1.46" fill="#000" filter="url(#b05)" transform="rotate(0.48 136.0 383.6)"/>
<rect x="131.0" y="382.54" width="10.0" height="2.02" rx="1.01" fill="#000" filter="url(#b05)" transform="rotate(0.48 136.0 383.6)"/>
<ellipse cx="155.0" cy="384.35" rx="9.2" ry="1.66" fill="#000" filter="url(#b05)" transform="rotate(1.23 155.0 384.4)"/>
<rect x="149.0" y="383.20" width="12.0" height="2.30" rx="1.15" fill="#000" filter="url(#b05)" transform="rotate(1.23 155.0 384.4)"/>
<ellipse cx="174.3" cy="383.70" rx="8.9" ry="1.46" fill="#000" filter="url(#b05)" transform="rotate(-0.86 174.3 383.7)"/>
<rect x="168.6" y="382.69" width="11.4" height="2.02" rx="1.01" fill="#000" filter="url(#b05)" transform="rotate(-0.86 174.3 383.7)"/>
<ellipse cx="211.7" cy="382.50" rx="9.5" ry="1.35" fill="#000" filter="url(#b05)" transform="rotate(1.57 211.7 382.5)"/>
<rect x="205.4" y="381.56" width="12.6" height="1.87" rx="0.94" fill="#000" filter="url(#b05)" transform="rotate(1.57 211.7 382.5)"/>
<ellipse cx="231.0" cy="383.45" rx="9.2" ry="1.46" fill="#000" filter="url(#b05)" transform="rotate(1.23 231.0 383.5)"/>
<rect x="225.0" y="382.44" width="12.0" height="2.02" rx="1.01" fill="#000" filter="url(#b05)" transform="rotate(1.23 231.0 383.5)"/>
<ellipse cx="250.0" cy="383.00" rx="9.2" ry="1.56" fill="#000" filter="url(#b05)" transform="rotate(-1.64 250.0 383.0)"/>
<rect x="244.0" y="381.92" width="12.0" height="2.16" rx="1.08" fill="#000" filter="url(#b05)" transform="rotate(-1.64 250.0 383.0)"/>
<ellipse cx="269.7" cy="383.40" rx="9.5" ry="1.25" fill="#000" filter="url(#b05)" transform="rotate(0.00 269.7 383.4)"/>
<rect x="263.4" y="382.54" width="12.6" height="1.73" rx="0.86" fill="#000" filter="url(#b05)" transform="rotate(0.00 269.7 383.4)"/>
<ellipse cx="289.2" cy="382.70" rx="9.0" ry="1.40" fill="#000" filter="url(#b05)" transform="rotate(-2.53 289.2 382.7)"/>
<rect x="283.4" y="381.73" width="11.6" height="1.94" rx="0.97" fill="#000" filter="url(#b05)" transform="rotate(-2.53 289.2 382.7)"/>
<ellipse cx="308.5" cy="381.60" rx="9.1" ry="1.56" fill="#000" filter="url(#b05)" transform="rotate(-3.32 308.5 381.6)"/>
<rect x="302.6" y="380.52" width="11.8" height="2.16" rx="1.08" fill="#000" filter="url(#b05)" transform="rotate(-3.32 308.5 381.6)"/>
<text x="508.70" y="254.00" font-size="26.5" font-weight="bold" textLength="59.50" lengthAdjust="spacingAndGlyphs" fill="#000">Timp1</text>
<text x="461.40" y="280.60" font-size="16.5" font-weight="bold" textLength="58.60" lengthAdjust="spacingAndGlyphs" fill="#000">RNA-seq</text>
<text x="550.50" y="280.50" font-size="16.5" font-weight="bold" textLength="104.00" lengthAdjust="spacingAndGlyphs" fill="#000">Immunoblotting</text>
<text transform="translate(400.3,384.5) rotate(-90)" font-size="16.5" font-weight="bold" textLength="67.5" lengthAdjust="spacingAndGlyphs">Log<tspan font-size="10.5" dy="4.5">2</tspan><tspan dy="-4.5">Count</tspan></text>
<text transform="translate(697.8,343.8) rotate(-90)" font-size="16.5" font-weight="bold" textLength="28" lengthAdjust="spacingAndGlyphs">M.D.</text>
<line x1="432.20" y1="309.30" x2="432.20" y2="382.60" stroke="#000" stroke-width="1.6"/>
<line x1="424.80" y1="319.70" x2="432.20" y2="319.70" stroke="#000" stroke-width="1.5"/>
<text transform="translate(420.20,324.40) scale(0.76,1)" font-size="13" font-weight="bold" font-style="italic" style="stroke-width:0.15px" text-anchor="end">10</text>
<line x1="424.80" y1="349.40" x2="432.20" y2="349.40" stroke="#000" stroke-width="1.5"/>
<text transform="translate(420.20,354.10) scale(0.76,1)" font-size="13" font-weight="bold" font-style="italic" style="stroke-width:0.15px" text-anchor="end">8</text>
<line x1="424.80" y1="378.80" x2="432.20" y2="378.80" stroke="#000" stroke-width="1.5"/>
<text transform="translate(420.20,383.50) scale(0.76,1)" font-size="13" font-weight="bold" font-style="italic" style="stroke-width:0.15px" text-anchor="end">6</text>
<line x1="657.60" y1="309.30" x2="657.60" y2="382.60" stroke="#000" stroke-width="1.6"/>
<line x1="657.60" y1="319.70" x2="665.00" y2="319.70" stroke="#000" stroke-width="1.5"/>
<text transform="translate(669.60,324.20) scale(0.76,1)" font-size="13" font-weight="bold" font-style="italic" style="stroke-width:0.15px" text-anchor="start">6</text>
<line x1="657.60" y1="349.40" x2="665.00" y2="349.40" stroke="#000" stroke-width="1.5"/>
<text transform="translate(669.60,353.90) scale(0.76,1)" font-size="13" font-weight="bold" font-style="italic" style="stroke-width:0.15px" text-anchor="start">3</text>
<line x1="657.60" y1="378.80" x2="665.00" y2="378.80" stroke="#000" stroke-width="1.5"/>
<text transform="translate(669.60,383.30) scale(0.76,1)" font-size="13" font-weight="bold" font-style="italic" style="stroke-width:0.15px" text-anchor="start">0</text>
<line x1="435.40" y1="378.80" x2="488.60" y2="378.80" stroke="#000" stroke-width="1.5"/>
<line x1="490.70" y1="378.80" x2="544.00" y2="378.80" stroke="#000" stroke-width="1.5"/>
<line x1="550.00" y1="378.80" x2="603.60" y2="378.80" stroke="#000" stroke-width="1.5"/>
<line x1="605.40" y1="378.80" x2="655.90" y2="378.80" stroke="#000" stroke-width="1.5"/>
<rect x="440.40" y="359.70" width="20.20" height="19.10" fill="#0f6cf8" stroke="#111" stroke-width="0.9"/>
<line x1="450.85" y1="357.60" x2="450.85" y2="361.90" stroke="#000" stroke-width="1.0"/>
<line x1="445.70" y1="357.60" x2="456.00" y2="357.60" stroke="#000" stroke-width="1.0"/>
<line x1="445.70" y1="361.90" x2="456.00" y2="361.90" stroke="#000" stroke-width="1.0"/>
<rect x="464.00" y="316.00" width="20.30" height="62.80" fill="#0f6cf8" stroke="#111" stroke-width="0.9"/>
<line x1="474.50" y1="310.70" x2="474.50" y2="320.70" stroke="#000" stroke-width="1.0"/>
<line x1="469.30" y1="310.70" x2="479.70" y2="310.70" stroke="#000" stroke-width="1.0"/>
<line x1="469.30" y1="320.70" x2="479.70" y2="320.70" stroke="#000" stroke-width="1.0"/>
<rect x="493.30" y="338.20" width="19.60" height="40.60" fill="#ff0066" stroke="#111" stroke-width="0.9"/>
<line x1="502.85" y1="332.90" x2="502.85" y2="342.60" stroke="#000" stroke-width="1.0"/>
<line x1="497.60" y1="332.90" x2="508.10" y2="332.90" stroke="#000" stroke-width="1.0"/>
<line x1="497.60" y1="342.60" x2="508.10" y2="342.60" stroke="#000" stroke-width="1.0"/>
<rect x="516.80" y="320.30" width="20.70" height="58.50" fill="#ff0066" stroke="#111" stroke-width="0.9"/>
<line x1="526.70" y1="316.00" x2="526.70" y2="324.30" stroke="#000" stroke-width="1.0"/>
<line x1="521.40" y1="316.00" x2="532.00" y2="316.00" stroke="#000" stroke-width="1.0"/>
<line x1="521.40" y1="324.30" x2="532.00" y2="324.30" stroke="#000" stroke-width="1.0"/>
<rect x="555.40" y="358.30" width="19.90" height="20.50" fill="#0f6cf8" stroke="#111" stroke-width="0.9"/>
<line x1="565.50" y1="351.90" x2="565.50" y2="361.90" stroke="#000" stroke-width="1.0"/>
<line x1="560.30" y1="351.90" x2="570.70" y2="351.90" stroke="#000" stroke-width="1.0"/>
<line x1="560.30" y1="361.90" x2="570.70" y2="361.90" stroke="#000" stroke-width="1.0"/>
<rect x="578.70" y="313.40" width="20.50" height="65.40" fill="#0f6cf8" stroke="#111" stroke-width="0.9"/>
<line x1="588.95" y1="308.10" x2="588.95" y2="318.30" stroke="#000" stroke-width="1.0"/>
<line x1="583.60" y1="308.10" x2="594.30" y2="308.10" stroke="#000" stroke-width="1.0"/>
<line x1="583.60" y1="318.30" x2="594.30" y2="318.30" stroke="#000" stroke-width="1.0"/>
<rect x="607.90" y="325.00" width="20.00" height="53.80" fill="#ff0066" stroke="#111" stroke-width="0.9"/>
<line x1="617.85" y1="316.00" x2="617.85" y2="332.60" stroke="#000" stroke-width="1.0"/>
<line x1="612.60" y1="316.00" x2="623.10" y2="316.00" stroke="#000" stroke-width="1.0"/>
<line x1="612.60" y1="332.60" x2="623.10" y2="332.60" stroke="#000" stroke-width="1.0"/>
<rect x="631.80" y="324.60" width="20.40" height="54.20" fill="#ff0066" stroke="#111" stroke-width="0.9"/>
<line x1="641.75" y1="319.30" x2="641.75" y2="329.30" stroke="#000" stroke-width="1.0"/>
<line x1="636.40" y1="319.30" x2="647.10" y2="319.30" stroke="#000" stroke-width="1.0"/>
<line x1="636.40" y1="329.30" x2="647.10" y2="329.30" stroke="#000" stroke-width="1.0"/>
<line x1="450.70" y1="300.80" x2="473.30" y2="300.80" stroke="#000" stroke-width="1.3"/>
<text transform="translate(461.70,305.20) scale(1.2,1)" font-size="18" letter-spacing="-1.05" text-anchor="middle" style="stroke:none">***</text>
<line x1="500.40" y1="300.70" x2="522.90" y2="300.70" stroke="#000" stroke-width="1.3"/>
<text transform="translate(510.20,305.10) scale(1.2,1)" font-size="18" letter-spacing="-1.05" text-anchor="middle" style="stroke:none">**</text>
<line x1="563.20" y1="301.00" x2="586.00" y2="301.00" stroke="#000" stroke-width="1.3"/>
<text transform="translate(574.80,305.40) scale(1.2,1)" font-size="18" letter-spacing="-1.05" text-anchor="middle" style="stroke:none">*</text>
<text transform="translate(450.30,395.60) scale(0.83,1)" font-size="16.5" font-weight="bold" text-anchor="middle">S</text>
<text transform="translate(476.00,395.60) scale(0.83,1)" font-size="16.5" font-weight="bold" text-anchor="middle">Ax</text>
<text transform="translate(503.60,395.60) scale(0.83,1)" font-size="16.5" font-weight="bold" text-anchor="middle">S</text>
<text transform="translate(532.00,395.60) scale(0.83,1)" font-size="16.5" font-weight="bold" text-anchor="middle">Ax</text>
<text transform="translate(565.80,395.60) scale(0.83,1)" font-size="16.5" font-weight="bold" text-anchor="middle">S</text>
<text transform="translate(589.20,395.60) scale(0.83,1)" font-size="16.5" font-weight="bold" text-anchor="middle">Ax</text>
<text transform="translate(618.80,395.60) scale(0.83,1)" font-size="16.5" font-weight="bold" text-anchor="middle">S</text>
<text transform="translate(647.00,395.60) scale(0.83,1)" font-size="16.5" font-weight="bold" text-anchor="middle">Ax</text>
</svg></body></html>
